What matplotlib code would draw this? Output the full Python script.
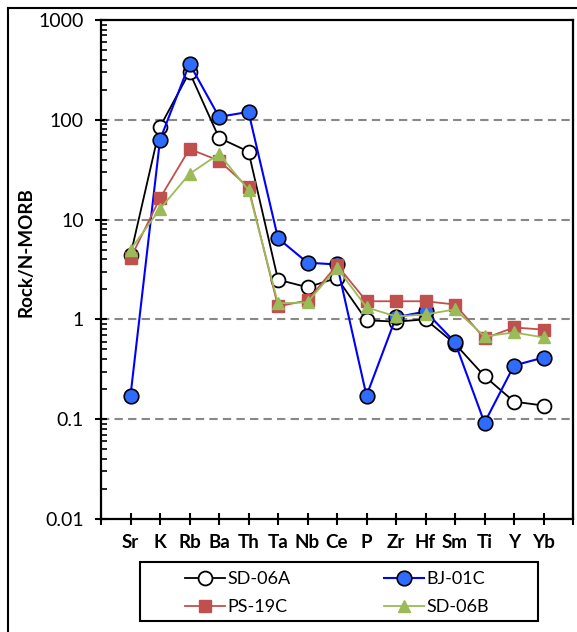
import matplotlib
matplotlib.use("Agg")
import matplotlib.pyplot as plt
from matplotlib.lines import Line2D
from matplotlib.patches import Rectangle
from matplotlib.ticker import LogLocator, NullFormatter, FixedLocator

# Spider diagram, N-MORB normalised

elements = ["Sr", "K", "Rb", "Ba", "Th", "Ta", "Nb", "Ce", "P", "Zr", "Hf", "Sm", "Ti", "Y", "Yb"]

sd06a = [4.4, 85, 300, 66, 48, 2.5, 2.1, 2.6, 0.98, 0.95, 1.0, 0.57, 0.27, 0.15, 0.137]
bj01c = [0.172, 63, 365, 107, 120, 6.5, 3.7, 3.55, 0.172, 1.05, 1.2, 0.59, 0.092, 0.345, 0.415]
ps19c = [4.1, 16.4, 51, 39, 21, 1.35, 1.55, 3.5, 1.52, 1.52, 1.52, 1.41, 0.645, 0.83, 0.79]
sd06b = [5.0, 12.8, 28.7, 45.5, 19.8, 1.45, 1.48, 3.3, 1.32, 1.07, 1.12, 1.26, 0.675, 0.74, 0.66]

plt.rcParams['font.family'] = ['Lato', 'DejaVu Sans']

fig = plt.figure(figsize=(5.77, 6.32), dpi=100)
ax = fig.add_axes([101 / 577, 1 - 519 / 632, 472 / 577, 499 / 632])

x = list(range(1, len(elements) + 1))

ax.plot(x, sd06a, color="black", lw=1.3, marker="o", ms=10, mfc="white",
        mec="black", mew=1.3, label="SD-06A", zorder=3)
ax.plot(x, bj01c, color="#0000ff", lw=1.5, marker="o", ms=10.5, mfc="#2f6bff",
        mec="black", mew=1.2, label="BJ-01C", zorder=4)
ax.plot(x, ps19c, color="#c0504d", lw=1.3, marker="s", ms=8, mfc="#c0504d",
        mec="#c0504d", label="PS-19C", zorder=5)
ax.plot(x, sd06b, color="#9bbb59", lw=1.3, marker="^", ms=8, mfc="#9bbb59",
        mec="#9bbb59", label="SD-06B", zorder=6)

ax.set_yscale("log")
ax.set_ylim(0.01, 1000)
ax.set_xlim(0, len(elements) + 1)

# dashed gridlines at the inner decades
for g in [0.1, 1, 10, 100]:
    ax.axhline(g, color="#888888", lw=1.5, ls=(0, (4, 2.5)), zorder=1)

ax.yaxis.set_major_locator(FixedLocator([0.01, 0.1, 1, 10, 100, 1000]))
ax.set_yticklabels(["0.01", "0.1", "1", "10", "100", "1000"])
ax.yaxis.set_minor_locator(LogLocator(base=10, subs=range(2, 10)))
ax.yaxis.set_minor_formatter(NullFormatter())

ax.set_xticks(range(0, len(elements) + 2))
ax.set_xticklabels([""] + elements + [""], fontweight="bold")

ax.tick_params(axis="y", which="major", direction="inout", length=9, width=1.5,
               labelsize=14, pad=8)
ax.tick_params(axis="y", which="minor", direction="in", length=4, width=1.2)
ax.tick_params(axis="x", which="major", direction="inout", length=9, width=1.5,
               labelsize=13.5, pad=6)

for s in ax.spines.values():
    s.set_linewidth(1.6)

ax.set_ylabel("Rock/N-MORB", fontsize=13.5, fontweight="bold")
ax.yaxis.set_label_coords(-0.14, 0.535)

# legend: row-wise order SD-06A, BJ-01C / PS-19C, SD-06B
h, l = ax.get_legend_handles_labels()
order = [0, 2, 1, 3]
leg = fig.legend([h[i] for i in order], [l[i] for i in order], ncol=2,
                 loc="upper left", bbox_to_anchor=(185 / 577, 1 - 571 / 632),
                 fontsize=13, frameon=False,
                 handlelength=2.2, handletextpad=0.15, borderpad=0,
                 labelspacing=0.68, columnspacing=5.2, borderaxespad=0)

# legend box
fig.add_artist(Rectangle((140 / 577, 1 - 621 / 632), 398 / 577, 59 / 632,
                         transform=fig.transFigure, fill=False,
                         edgecolor="black", lw=1.5))

# outer chart border (left and top edges)
fig.add_artist(Line2D([8 / 577, 8 / 577], [0, 1 - 8 / 632], color="black", lw=1.5))
fig.add_artist(Line2D([8 / 577, 1], [1 - 8 / 632, 1 - 8 / 632], color="black", lw=1.5))

fig.savefig("out.png", dpi=100)
